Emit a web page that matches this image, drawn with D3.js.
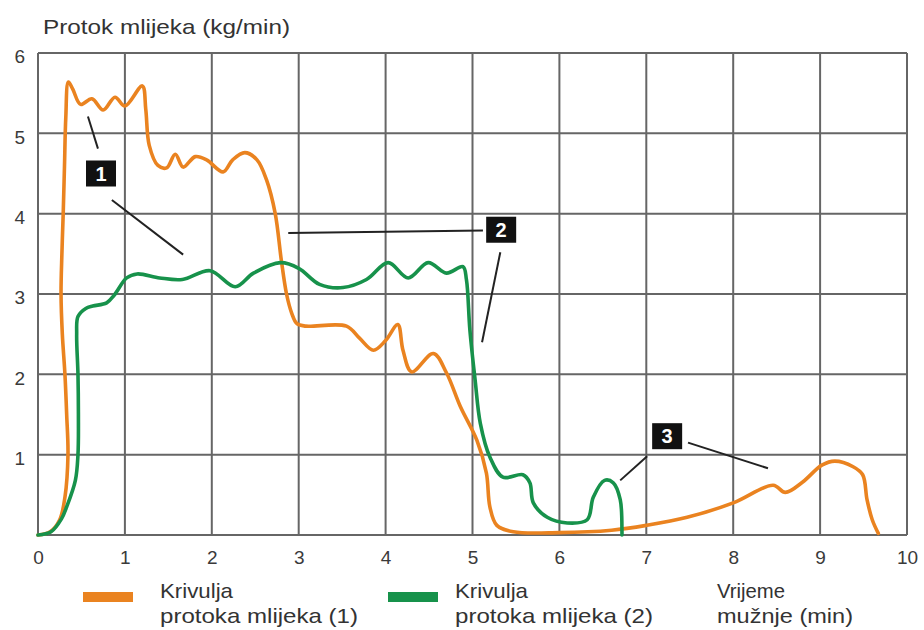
<!DOCTYPE html>
<html><head><meta charset="utf-8">
<script src="https://cdn.jsdelivr.net/npm/d3@7"></script>
<style>
body{margin:0;background:#fff;}
svg{display:block;font-family:"Liberation Sans",Arial,sans-serif;}
</style></head>
<body><svg id="chart" width="924" height="630"></svg>
<script>
// ---- data ----
const titleText = "Protok mlijeka (kg/min)";
const xTicks = [0,1,2,3,4,5,6,7,8,9,10];
const yTicks = [1,2,3,4,5,6];
const seriesNames = ["Krivulja|protoka mlijeka (1)", "Krivulja|protoka mlijeka (2)"];
const axisNote = "Vrijeme|mužnje (min)";
// curve 1 (orange): [time min, flow kg/min]
const curve1 = [[0,0],[0.14,0.04],[0.25,0.19],[0.31,0.47],[0.345,1.0],[0.33,1.5],[0.31,2.0],[0.28,2.5],[0.265,3.0],[0.275,3.5],[0.29,4.0],[0.305,4.6],[0.32,5.2],[0.35,5.64],[0.4,5.55],[0.49,5.36],[0.62,5.43],[0.75,5.29],[0.886,5.45],[1.0,5.34],[1.2,5.59],[1.24,5.3],[1.28,4.85],[1.38,4.6],[1.48,4.57],[1.58,4.74],[1.67,4.58],[1.81,4.71],[1.94,4.67],[2.13,4.52],[2.24,4.67],[2.38,4.76],[2.52,4.67],[2.63,4.42],[2.73,4.0],[2.8,3.42],[2.86,3.0],[2.92,2.76],[2.98,2.63],[3.08,2.6],[3.55,2.6],[3.7,2.45],[3.86,2.3],[4.0,2.42],[4.14,2.62],[4.2,2.3],[4.3,2.03],[4.55,2.26],[4.7,2.02],[4.86,1.6],[5.05,1.18],[5.16,0.77],[5.2,0.35],[5.28,0.12],[5.47,0.04],[6.0,0.03],[6.6,0.06],[7.0,0.12],[7.47,0.22],[8.0,0.4],[8.46,0.62],[8.6,0.53],[8.8,0.66],[9.02,0.87],[9.17,0.92],[9.38,0.85],[9.49,0.75],[9.54,0.44],[9.6,0.19],[9.67,0.02]];
// curve 2 (green)
const curve2 = [[0,0],[0.15,0.04],[0.27,0.2],[0.33,0.35],[0.43,0.68],[0.46,1.0],[0.465,1.5],[0.46,2.0],[0.445,2.5],[0.46,2.72],[0.55,2.82],[0.63,2.85],[0.79,2.89],[0.88,2.99],[1.02,3.2],[1.14,3.25],[1.4,3.2],[1.66,3.18],[1.98,3.29],[2.27,3.09],[2.48,3.26],[2.79,3.39],[3.0,3.32],[3.24,3.12],[3.51,3.08],[3.78,3.18],[4.03,3.39],[4.26,3.2],[4.49,3.39],[4.7,3.26],[4.89,3.34],[4.93,3.18],[4.97,2.55],[5.03,1.93],[5.09,1.39],[5.2,0.97],[5.35,0.72],[5.58,0.75],[5.66,0.65],[5.7,0.4],[5.86,0.22],[6.09,0.15],[6.32,0.19],[6.39,0.47],[6.52,0.68],[6.62,0.65],[6.7,0.44],[6.72,0.04],[6.72,0]];
// annotation markers: label, box centre [x,y], leader lines [[x1,y1,x2,y2],...]
const markerLabels = ["1","2","3"];
const markerPos = [[0.725,4.5],[5.33,3.8],[7.24,1.23]];
const markerLines = [
  [[0.575,5.21,0.69,4.81],[0.85,4.17,1.67,3.49]],
  [[2.88,3.76,5.12,3.79],[5.32,3.52,5.11,2.40]],
  [[7.01,0.98,6.70,0.68],[7.48,1.15,8.40,0.83]]
];
const colors = ["#EA8320","#17924B"];

// ---- drawing ----
const svg = d3.select("#chart");
const x = d3.scaleLinear().domain([0,10]).range([38,907]);
const y = d3.scaleLinear().domain([0,6]).range([535,53]);
const FONT = "Liberation Sans, Arial, sans-serif";

// grid
const grid = svg.append("g");
grid.selectAll("line.v").data(xTicks).join("line")
  .attr("x1",d=>x(d)).attr("x2",d=>x(d)).attr("y1",y(0)).attr("y2",y(6))
  .attr("stroke","#666").attr("stroke-width",2);
grid.selectAll("line.h").data([0].concat(yTicks)).join("line")
  .attr("y1",d=>y(d)).attr("y2",d=>y(d)).attr("x1",x(0)).attr("x2",x(10))
  .attr("stroke","#666").attr("stroke-width",2);

// axes (tick labels only)
const xAxis = d3.axisBottom(x).tickValues(xTicks).tickFormat(d3.format("d")).tickSize(0).tickPadding(0);
const gx = svg.append("g").attr("transform",`translate(0,${y(0)})`).call(xAxis);
gx.select(".domain").remove();
gx.selectAll("text").attr("dy",null).attr("y",29).attr("font-size",19).attr("fill","#3a3a3a")
  .attr("font-family",FONT);
const yAxis = d3.axisLeft(y).tickValues(yTicks).tickFormat(d3.format("d")).tickSize(0).tickPadding(0);
const gy = svg.append("g").attr("transform",`translate(25,0)`).call(yAxis);
gy.select(".domain").remove();
gy.selectAll("text").attr("x",0).attr("dy","0.36em").attr("y",3).attr("font-size",19).attr("fill","#3a3a3a")
  .attr("font-family",FONT);

// title
svg.append("text").attr("x",43).attr("y",34).attr("font-size",21).attr("fill","#333")
  .attr("textLength",247).attr("lengthAdjust","spacingAndGlyphs").text(titleText);

// curves
const line = d3.line().x(d=>x(d[0])).y(d=>y(d[1])).curve(d3.curveCatmullRom.alpha(0.5));
[curve1, curve2].forEach((c,i)=>{
  svg.append("path").datum(c).attr("d",line).attr("fill","none")
    .attr("stroke",colors[i]).attr("stroke-width",3.6).attr("stroke-linejoin","round").attr("stroke-linecap","round");
});

// markers
markerLabels.forEach((lab,i)=>{
  markerLines[i].forEach(l=>{
    svg.append("line").attr("x1",x(l[0])).attr("y1",y(l[1])).attr("x2",x(l[2])).attr("y2",y(l[3]))
      .attr("stroke","#222").attr("stroke-width",2);
  });
  const cx = x(markerPos[i][0]), cy = y(markerPos[i][1]);
  svg.append("rect").attr("x",cx-15).attr("y",cy-13).attr("width",30).attr("height",26).attr("fill","#111");
  svg.append("text").attr("x",cx).attr("y",cy+7).attr("text-anchor","middle").attr("font-size",20)
    .attr("font-weight","bold").attr("fill","#fff").text(lab);
});

// legend
const legX = [83,388];
const legTextX = [160,455];
seriesNames.forEach((n,i)=>{
  svg.append("rect").attr("x",legX[i]).attr("y",592).attr("width",50).attr("height",10).attr("fill",colors[i]);
  const parts = n.split("|");
  svg.append("text").attr("x",legTextX[i]).attr("y",598).attr("font-size",21).attr("fill","#333")
    .attr("textLength",73).attr("lengthAdjust","spacingAndGlyphs").text(parts[0]);
  svg.append("text").attr("x",legTextX[i]).attr("y",623).attr("font-size",21).attr("fill","#333")
    .attr("textLength",198).attr("lengthAdjust","spacingAndGlyphs").text(parts[1]);
});
const an = axisNote.split("|");
svg.append("text").attr("x",717).attr("y",598).attr("font-size",21).attr("fill","#333")
  .attr("textLength",68).attr("lengthAdjust","spacingAndGlyphs").text(an[0]);
svg.append("text").attr("x",717).attr("y",623).attr("font-size",21).attr("fill","#333")
  .attr("textLength",136).attr("lengthAdjust","spacingAndGlyphs").text(an[1]);
</script></body></html>
